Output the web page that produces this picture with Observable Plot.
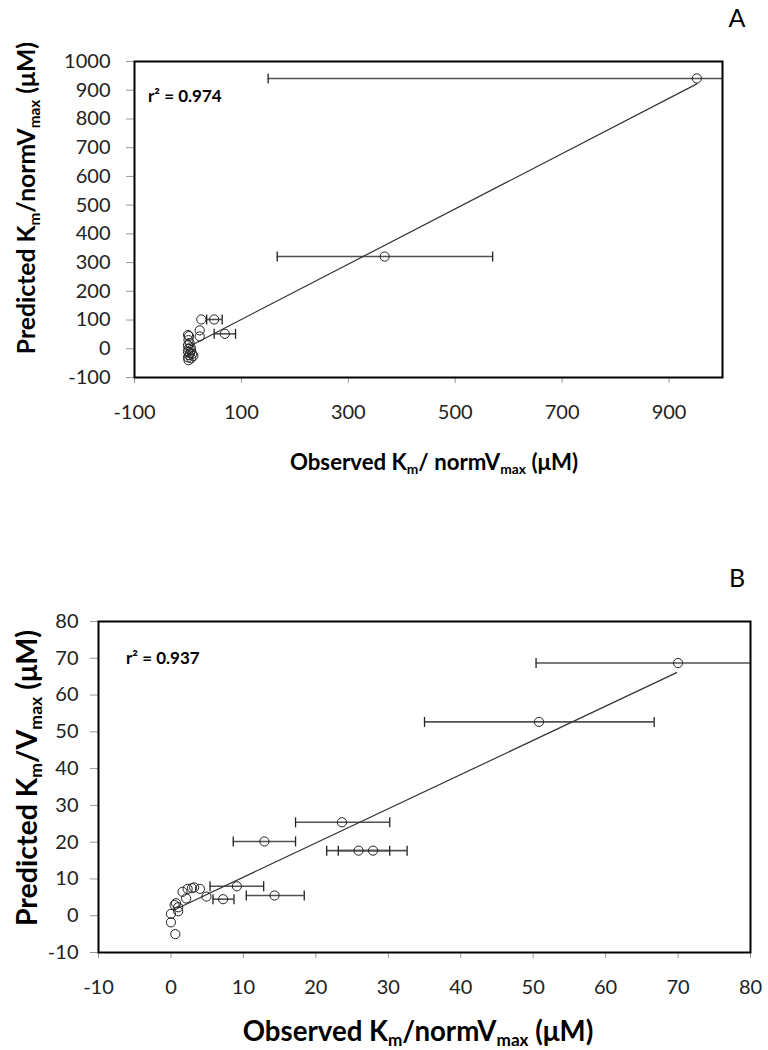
<!DOCTYPE html>
<html><head><meta charset="utf-8">
<script src="https://cdn.jsdelivr.net/npm/d3@7"></script>
<script src="https://cdn.jsdelivr.net/npm/@observablehq/plot@0.6"></script>
<style>
body{margin:0;background:#fff;font-family:Lato,sans-serif;}
#wrap{position:relative;width:768px;height:1050px;overflow:hidden;background:#fff;}
.abs{position:absolute;white-space:nowrap;color:#000;transform:translate(-50%,-50%);line-height:1;}
.panel{font-size:25px;}
.r2{font-weight:bold;font-size:17px;transform:translate(0,-50%);}
.title{font-weight:bold;font-size:21px;}
.rot{transform:translate(-50%,-50%) rotate(-90deg);}
.sb{font-size:0.62em;position:relative;top:0.3em;}
.plot{position:absolute;left:0;}
</style></head><body><div id="wrap"></div>
<script>
// ---- Panel A data ----
const obsA  = [952, 368, 49, 25, 69, 22, 22, 0, 2, 1, 3, 0, 5, 1, 6, 0, 4, 8, 2, 10, 0, 6, 1];
const predA = [941, 321, 102, 102, 52, 64, 43, 48, 44, 30, 20, 12, 5, 0, -5, -10, -15, -18, -22, -25, -30, -33, -40];
const loA   = [150, 167, 35, null, 49, null, null, null, null, null, null, null, null, null, null, null, null, null, null, null, null, null, null];
const hiA   = [1754, 570, 64, null, 89, null, null, null, null, null, null, null, null, null, null, null, null, null, null, null, null, null, null];
const fitA_x = [5, 952];
const fitA_y = [10.7, 922];
const xTicksA = [-100, 100, 300, 500, 700, 900];
const yTicksA = [-100, 0, 100, 200, 300, 400, 500, 600, 700, 800, 900, 1000];

// ---- Panel B data ----
const obsB  = [70.0, 50.8, 23.6, 12.9, 25.9, 27.9, 9.1, 14.3, 7.2, 4.9, 1.6, 2.3, 2.9, 3.2, 4.0, 2.1, 0.7, 0.5, 1.0, 1.0, 0.0, 0.0, 0.6];
const predB = [68.7, 52.7, 25.4, 20.2, 17.7, 17.7, 8.0, 5.5, 4.5, 5.2, 6.5, 7.3, 7.5, 7.7, 7.3, 4.7, 3.4, 2.9, 2.3, 1.2, 0.5, -1.8, -5.0];
const loB   = [50.4, 35.0, 17.2, 8.6, 21.5, 23.1, 5.4, 10.4, 5.8, null, null, null, null, null, null, null, null, null, null, null, null, null, null];
const hiB   = [89.6, 66.7, 30.2, 17.2, 30.2, 32.6, 12.8, 18.4, 8.7, null, null, null, null, null, null, null, null, null, null, null, null, null, null];
const fitB_x = [1.0, 69.8];
const fitB_y = [2.1, 66.1];
const xTicksB = [-10, 0, 10, 20, 30, 40, 50, 60, 70, 80];
const yTicksB = [-10, 0, 10, 20, 30, 40, 50, 60, 70, 80];

const cap = {draw(ctx){ ctx.moveTo(0, -5); ctx.lineTo(0, 5); }};

function panel(obs, pred, lo, hi, fx, fy, xdom, ydom, xt, yt, opts) {
  const pts = obs.map((x, i) => ({x, y: pred[i]}));
  const err = obs.map((x, i) => ({y: pred[i], lo: lo[i], hi: hi[i]})).filter(d => d.lo != null);
  const fit = fx.map((x, i) => ({x, y: fy[i]}));
  return Plot.plot({
    width: 768, height: opts.height,
    marginLeft: opts.ml, marginRight: opts.mr, marginTop: opts.mt, marginBottom: opts.mb,
    style: {fontFamily: "Lato, sans-serif", fontSize: "20px", color: "#222", background: "#fff"},
    x: {domain: xdom, label: null},
    y: {domain: ydom, label: null},
    marks: [
      Plot.axisX({ticks: xt, tickSize: 6, tickPadding: opts.xpad, stroke: "#999", color: "#222", label: null, tickFormat: d => String(d)}),
      Plot.axisY({ticks: yt, tickSize: 8, tickPadding: opts.ypad, stroke: "#999", color: "#222", label: null, tickFormat: d => String(d)}),
      Plot.ruleY(err, {y: "y", x1: "lo", x2: "hi", stroke: "#505050", strokeWidth: 1.6, clip: true}),
      Plot.dot(err, {x: "lo", y: "y", symbol: cap, stroke: "#222", strokeWidth: 1.3, fill: "none", clip: true}),
      Plot.dot(err, {x: "hi", y: "y", symbol: cap, stroke: "#222", strokeWidth: 1.3, fill: "none", clip: true}),
      Plot.line(fit, {x: "x", y: "y", stroke: "#333", strokeWidth: 1.2}),
      Plot.dot(pts, {x: "x", y: "y", r: 4.6, stroke: "#222", strokeWidth: 1, fill: "none"}),
      Plot.frame({stroke: "#000", strokeWidth: 2})
    ]
  });
}

const wrap = document.getElementById("wrap");
const pA = panel(obsA, predA, loA, hiA, fitA_x, fitA_y, [-100, 1000], [-100, 1000], xTicksA, yTicksA,
  {height: 440, ml: 134, mr: 46, mt: 61, mb: 63, xpad: 21, ypad: 16});
pA.classList.add("plot"); pA.style.top = "0px";
wrap.appendChild(pA);

const pB = panel(obsB, predB, loB, hiB, fitB_x, fitB_y, [-10, 80], [-10, 80], xTicksB, yTicksB,
  {height: 460, ml: 98, mr: 18, mt: 61, mb: 68, xpad: 21, ypad: 12});
pB.classList.add("plot"); pB.style.top = "560px";
wrap.appendChild(pB);

function add(html, cls, x, y, fitWidth) {
  const d = document.createElement("div");
  d.className = "abs " + cls;
  d.innerHTML = html;
  d.style.left = x + "px"; d.style.top = y + "px";
  wrap.appendChild(d);
  if (fitWidth) {
    const fs = parseFloat(getComputedStyle(d).fontSize);
    d.style.fontSize = (fs * fitWidth / d.offsetWidth).toFixed(2) + "px";
  }
}
add("A", "panel", 737, 17);
add("B", "panel", 737, 577);
add("r² = 0.974", "r2", 148, 95);
add("r² = 0.937", "r2", 126, 657);
add('Predicted K<span class="sb">m</span>/normV<span class="sb">max</span> (μM)', "title rot", 26, 198, 312);
add('Observed K<span class="sb">m</span>/ normV<span class="sb">max</span> (μM)', "title", 434, 462, 288);
add('Predicted K<span class="sb">m</span>/V<span class="sb">max</span> (μM)', "title rot", 26, 778, 296);
add('Observed K<span class="sb">m</span>/normV<span class="sb">max</span> (μM)', "title", 418, 1031, 350);
</script>
</body></html>
